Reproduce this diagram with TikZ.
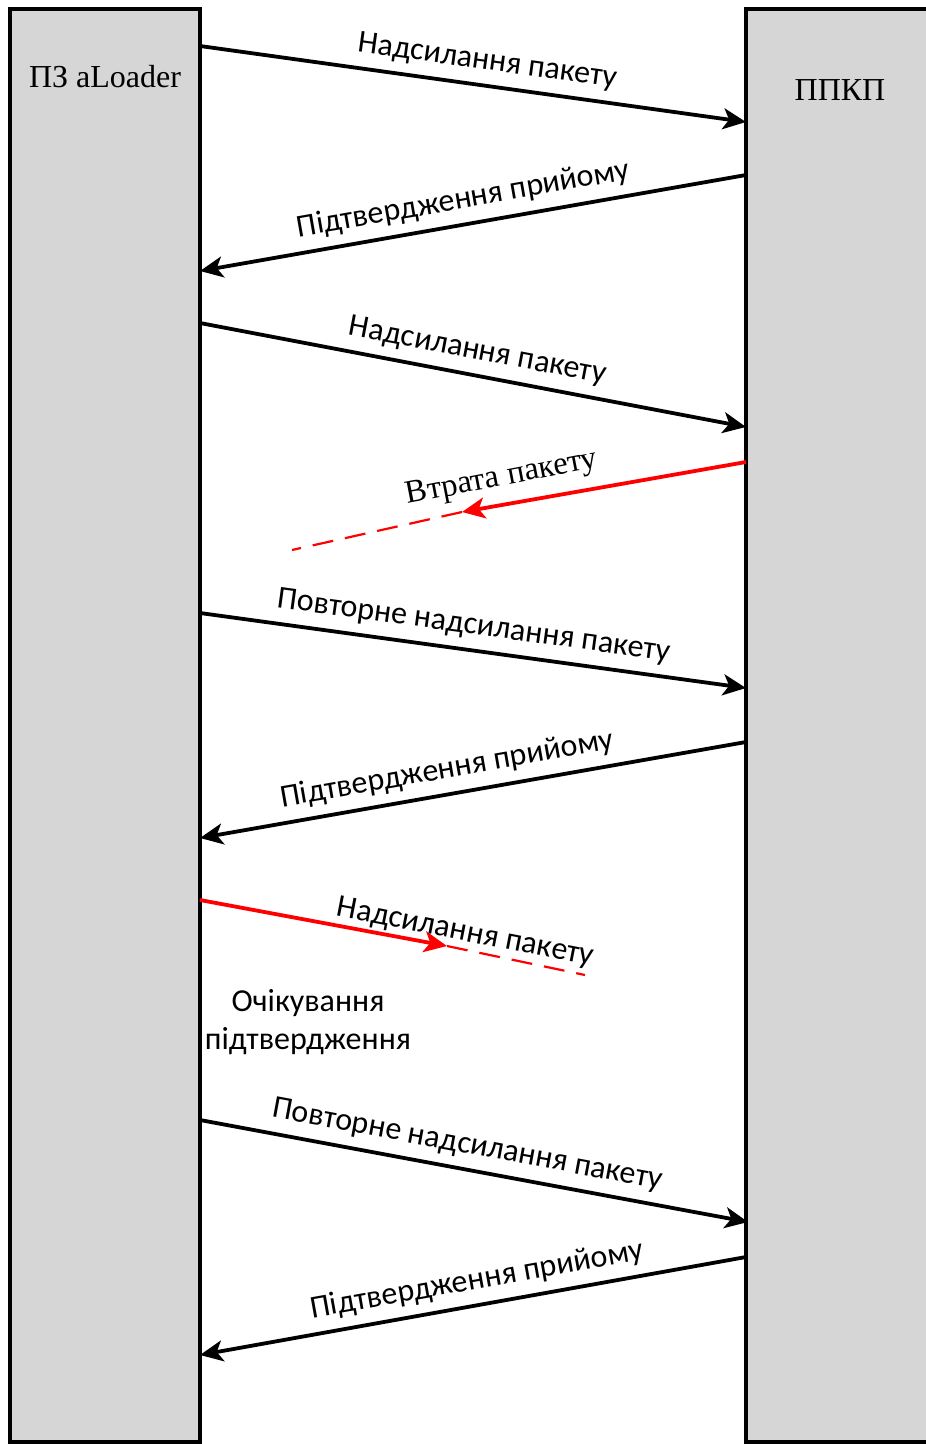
\documentclass[tikz,border=0pt]{standalone}
\usepackage{fontspec}
\setmainfont{Liberation Serif}
\newfontfamily\labfont{Carlito}
\usetikzlibrary{arrows.meta}
\definecolor{boxgray}{RGB}{214,214,214}
\definecolor{lossred}{RGB}{255,0,0}
\begin{document}
\begin{tikzpicture}[x=1pt,y=-1pt,
  lane/.style={draw=black, line width=3.5pt, fill=boxgray, inner sep=0pt},
  msg/.style={line width=3.8pt, -{Stealth[length=23pt,width=21pt,inset=6pt]}},
  lost/.style={line width=3.8pt, draw=lossred, -{Stealth[length=23pt,width=21pt,inset=6pt]}},
  lostdash/.style={line width=2.2pt, draw=lossred, dash pattern=on 21pt off 12pt},
  lab/.style={font=\labfont\fontsize{32}{38}\selectfont, sloped, above, inner sep=9pt},
  serif/.style={font=\fontsize{32}{38}\selectfont, inner sep=0pt}]
\useasboundingbox (0,0) rectangle (926,1444);
% lifeline boxes
\node[lane, minimum width=190pt, minimum height=1433pt] (L) at (105,725.5) {};
\node[lane, minimum width=190pt, minimum height=1433pt] (R) at (841,725.5) {};
\node[serif] (Lname) at (105,77) {ПЗ aLoader};
\node[serif] (Rname) at (840,90) {ППКП};
% anchor points on the lifelines
\coordinate (a1) at (200,46);   \coordinate (b1) at (746,122);
\coordinate (b2) at (746,175);  \coordinate (a2) at (200,271);
\coordinate (a3) at (200,323);  \coordinate (b3) at (746,427);
\coordinate (b4) at (746,462);  \coordinate (t4) at (462,512);  \coordinate (e4) at (292,550);
\coordinate (a5) at (200,613);  \coordinate (b5) at (746,688);
\coordinate (b6) at (746,742);  \coordinate (a6) at (200,838);
\coordinate (a7) at (200,900);  \coordinate (t7) at (447,946);  \coordinate (e7) at (585,975);
\coordinate (a9) at (200,1120); \coordinate (b9) at (748,1222);
\coordinate (b10) at (746,1257); \coordinate (a10) at (200,1355);
% messages
\draw[msg] (a1) -- node[lab, pos=0.52] {Надсилання пакету} (b1);
\draw[msg] (b2) -- node[lab, pos=0.51] {Підтвердження прийому} (a2);
\draw[msg] (a3) -- node[lab, pos=0.50] {Надсилання пакету} (b3);
% lost acknowledgement
\draw[lostdash] (t4) -- (e4);
\draw[lost] (b4) -- (t4);
\path (b4) -- node[serif, sloped, above, inner sep=0pt, yshift=16pt, pos=0.525, font=\fontsize{32.5}{38}\selectfont] {Втрата пакету} (e4);
\draw[msg] (a5) -- node[lab, pos=0.495] {Повторне надсилання пакету} (b5);
\draw[msg] (b6) -- node[lab, pos=0.54] {Підтвердження прийому} (a6);
% lost packet
\draw[lostdash] (t7) -- (e7);
\draw[lost] (a7) -- (t7);
\path (a7) -- node[lab, pos=0.68, inner sep=5pt] {Надсилання пакету} (e7);
\node[font=\labfont\fontsize{32}{38}\selectfont, align=center] (wait) at (308,1022) {Очікування\\підтвердження};
\draw[msg] (a9) -- node[lab, pos=0.48] {Повторне надсилання пакету} (b9);
\draw[msg] (b10) -- node[lab, pos=0.485] {Підтвердження прийому} (a10);
\end{tikzpicture}
\end{document}
